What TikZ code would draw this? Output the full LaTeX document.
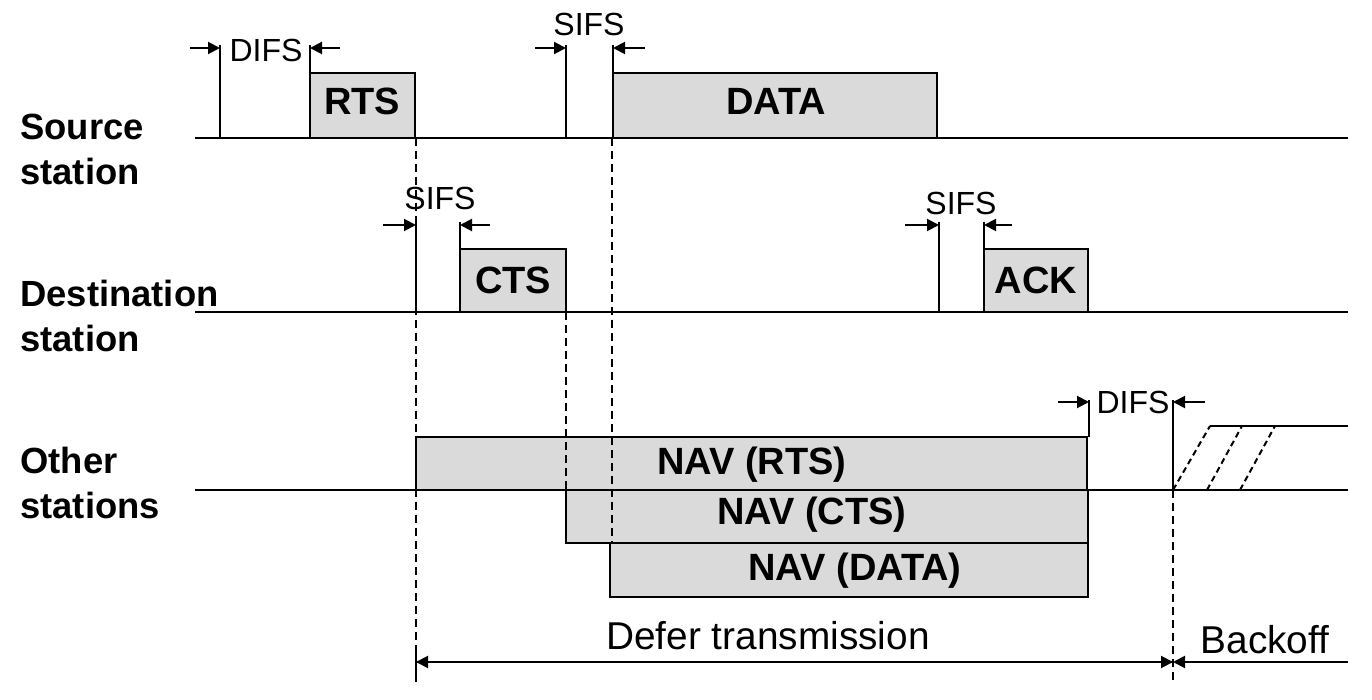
\documentclass[tikz,border=0pt]{standalone}
\usepackage{fontspec}
\setmainfont{Liberation Sans}
\usetikzlibrary{arrows.meta}
\definecolor{pktgray}{RGB}{218,218,218}
\tikzset{
  tl/.style={line width=1pt},
  pkt/.style={draw, line width=1pt, fill=pktgray, anchor=north west, inner sep=0pt, outer sep=0pt},
  pkttext/.style={font=\fontsize{19}{22}\selectfont\bfseries, inner sep=0pt},
  small/.style={font=\fontsize{16}{18}\selectfont, inner sep=0pt},
  big/.style={font=\fontsize{19.4}{22}\selectfont, inner sep=0pt},
  stlabel/.style={font=\fontsize{18.2}{22.5}\selectfont\bfseries, align=left, anchor=north west, inner sep=0pt},
  tick/.style={line width=1pt, -{Triangle[length=6pt,width=6pt]}},
  dsh/.style={line width=0.9pt, dash pattern=on 4pt off 2.5pt},
  hatch/.style={line width=1pt, densely dashed},
}
\begin{document}
\begin{tikzpicture}[x=0.5pt,y=-0.5pt]
\useasboundingbox (0,0) rectangle (1372,700);

% station labels
\node[stlabel] (lsrc) at (20,114) {Source\\station};
\node[stlabel] (ldst) at (20,280) {Destination\\station};
\node[stlabel] (loth) at (20,447) {Other\\stations};

% packets
\node[pkt, minimum width=52.5pt, minimum height=32.5pt] (rts) at (310,73) {};
\node[pkt, minimum width=162pt, minimum height=32.5pt] (data) at (613,73) {};
\node[pkt, minimum width=53pt, minimum height=31.5pt] (cts) at (460,249) {};
\node[pkt, minimum width=52pt, minimum height=31.5pt] (ack) at (984,249) {};
\node[pkt, minimum width=335.5pt, minimum height=26.5pt] (navr) at (416,437) {};
\node[pkt, minimum width=261pt, minimum height=26.5pt] (navc) at (566,490) {};
\node[pkt, minimum width=239pt, minimum height=27pt] (navd) at (610,543) {};

\node[pkttext] (trts) at (362,101) {RTS};
\node[pkttext] (tdata) at (776,101) {DATA};
\node[pkttext] (tcts) at (513,280) {CTS};
\node[pkttext] (tack) at (1036,280) {ACK};
\node[pkttext] (tnavr) at (752,465) {NAV (RTS)};
\node[pkttext] (tnavc) at (812,515) {NAV (CTS)};
\node[pkttext] (tnavd) at (855,571) {NAV (DATA)};

% timelines
\coordinate (s0) at (195,138); \coordinate (s1) at (1348,138);
\coordinate (d0) at (195,312); \coordinate (d1) at (1348,312);
\coordinate (o0) at (195,490); \coordinate (o1) at (1348,490);
\draw[tl] (s0) -- (s1);
\draw[tl] (d0) -- (d1);
\draw[tl] (o0) -- (o1);

% source station spacings
\coordinate (difsA) at (220,138);
\coordinate (sifsA) at (566,138);
\draw[tl] (difsA) -- ++(0,-93);
\draw[tl] (rts.north west) -- ++(0,-28);
\draw[tick] (190,48) -- (difsA |- 0,48);
\draw[tick] (340,48) -- (rts.north west |- 0,48);
\node[small] (difs1) at (266,50) {DIFS};
\draw[tl] (sifsA) -- ++(0,-93);
\draw[tl] (data.north west) -- ++(0,-28);
\draw[tick] (535,48) -- (sifsA |- 0,48);
\draw[tick] (645,48) -- (data.north west |- 0,48);
\node[small] (sifs1) at (589,24) {SIFS};

% destination station spacings
\coordinate (sifsB) at (416,312);
\coordinate (sifsC) at (939,312);
\draw[tl] (sifsB) -- ++(0,-90);
\draw[tl] (cts.north west) -- ++(0,-27);
\draw[tick] (383,225) -- (sifsB |- 0,225);
\draw[tick] (490,225) -- (cts.north west |- 0,225);
\node[small] (sifs2) at (440,198) {SIFS};
\draw[tl] (sifsC) -- ++(0,-90);
\draw[tl] (ack.north west) -- ++(0,-27);
\draw[tick] (905,225) -- (sifsC |- 0,225);
\draw[tick] (1012,225) -- (ack.north west |- 0,225);
\node[small] (sifs3) at (961,203) {SIFS};

% other stations DIFS and backoff
\coordinate (difsB) at (1089,437);
\coordinate (bo) at (1173,490);
\draw[tl] (difsB) -- ++(0,-37);
\draw[tl] (bo) -- ++(0,-90);
\draw[tick] (1058,402) -- (difsB |- 0,402);
\draw[tick] (1205,402) -- (bo |- 0,402);
\node[small] (difs2) at (1133,402) {DIFS};
\coordinate (bt) at (1210,426);
\draw[hatch] (bo) -- (bt);
\draw[tl] (bt) -- (1348,426);
\draw[hatch] (1207,490) -- (1242,426);
\draw[hatch] (1240,490) -- (1275,426);

% dashed guides
\draw[dsh] (416,138) -- (416,680);
\draw[dsh] (566,312) -- (navc.north west);
\draw[dsh] (612,138) -- (612,543);
\draw[dsh] (bo) -- (1173,680);

% defer / backoff
\coordinate (df0) at (416,662);
\coordinate (df1) at (1173,662);
\coordinate (bk1) at (1348,662);
\draw[tl] (416,652) -- (416,682);
\draw[tick] (df1) -- (df0);
\draw[tick] (df0) -- (df1);
\draw[tick] (bk1) -- (df1);
\node[big] (tdefer) at (768,636) {Defer transmission};
\node[big] (tback) at (1265,640) {Backoff};
\end{tikzpicture}
\end{document}
